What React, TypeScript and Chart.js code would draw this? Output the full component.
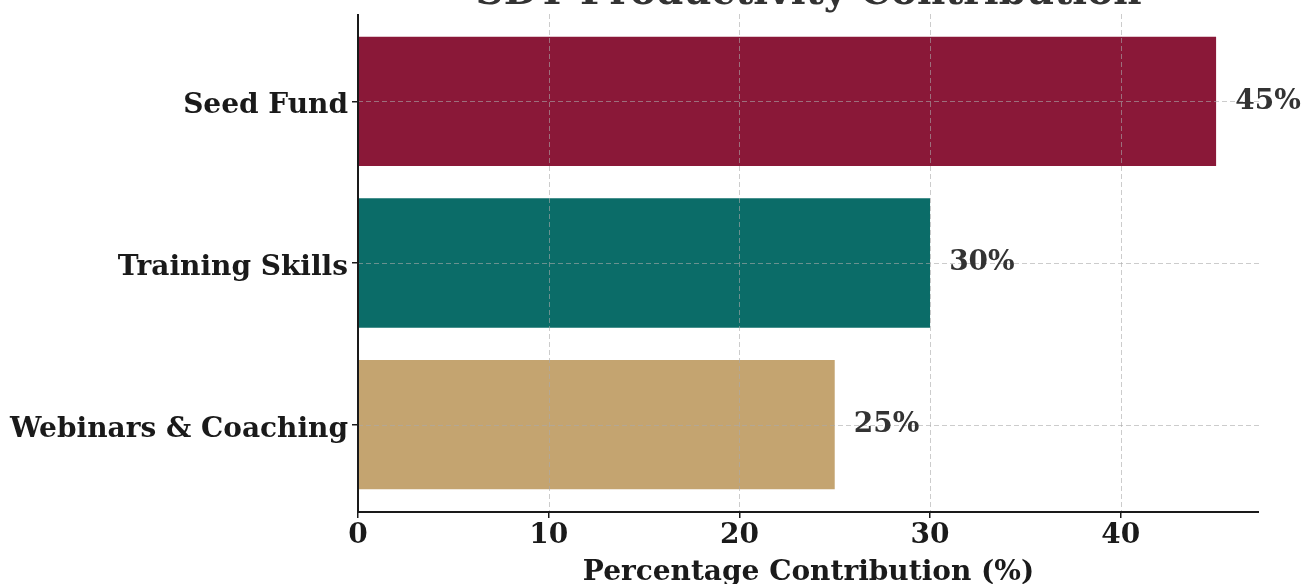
import React, { useEffect, useRef } from "react";
import { Chart, registerables } from "chart.js";

Chart.register(...registerables);

const categories = ["Seed Fund", "Training Skills", "Webinars & Coaching"];
const values = [45, 30, 25];
const colors = ["#8A1838", "#0B6C68", "#C4A470"];
const xTicks = [0, 10, 20, 30, 40];
const chartTitle = "SDT Productivity Contribution";
const xTitle = "Percentage Contribution (%)";

const FONT = "'DejaVu Serif', serif";

const overlay = {
  id: "overlay",
  afterDatasetsDraw(chart: any) {
    const { ctx, chartArea, scales } = chart;
    const xs = scales.x;
    const ys = scales.y;
    ctx.save();
    // grid on top of bars
    ctx.strokeStyle = "rgba(170,170,170,0.6)";
    ctx.lineWidth = 1;
    ctx.setLineDash([5, 3]);
    xTicks.forEach((v) => {
      const px = Math.round(xs.getPixelForValue(v)) + 0.5;
      ctx.beginPath();
      ctx.moveTo(px, chartArea.top);
      ctx.lineTo(px, chartArea.bottom);
      ctx.stroke();
    });
    categories.forEach((_, i) => {
      const py = Math.round(ys.getPixelForValue(i)) + 0.5;
      ctx.beginPath();
      ctx.moveTo(chartArea.left, py);
      ctx.lineTo(chartArea.right, py);
      ctx.stroke();
    });
    ctx.setLineDash([]);
    // spines
    ctx.strokeStyle = "#1a1a1a";
    ctx.lineWidth = 2;
    ctx.beginPath();
    ctx.moveTo(chartArea.left, chartArea.top);
    ctx.lineTo(chartArea.left, chartArea.bottom);
    ctx.lineTo(chartArea.right, chartArea.bottom);
    ctx.stroke();
    // category labels
    ctx.fillStyle = "#1a1a1a";
    ctx.font = `bold 28px ${FONT}`;
    ctx.textAlign = "right";
    ctx.textBaseline = "alphabetic";
    categories.forEach((c, i) => {
      ctx.fillText(c, chartArea.left - 10, ys.getPixelForValue(i) + 12);
    });
    // value labels
    ctx.fillStyle = "#333333";
    ctx.font = `bold 28px ${FONT}`;
    ctx.textAlign = "left";
    ctx.textBaseline = "middle";
    values.forEach((v, i) => {
      ctx.fillText(`${v}%`, xs.getPixelForValue(v + 1), ys.getPixelForValue(i));
    });
    // x axis title
    ctx.fillStyle = "#1a1a1a";
    ctx.textAlign = "center";
    ctx.textBaseline = "alphabetic";
    ctx.fillText(xTitle, (chartArea.left + chartArea.right) / 2, 580);
    // title (cut off at top)
    ctx.fillStyle = "#333333";
    ctx.font = `bold 39px ${FONT}`;
    ctx.fillText(chartTitle, (chartArea.left + chartArea.right) / 2, 4);
    ctx.restore();
  },
};

export default function App() {
  const ref = useRef<HTMLCanvasElement>(null);
  useEffect(() => {
    document.body.style.margin = "0";
    const chart = new Chart(ref.current!, {
      type: "bar",
      data: {
        datasets: [
          {
            data: values.map((v, i) => ({ x: v, y: i })),
            backgroundColor: colors,
            borderWidth: 0,
            categoryPercentage: 0.8,
            barPercentage: 1,
          },
        ],
      },
      plugins: [overlay],
      options: {
        indexAxis: "y",
        animation: false,
        responsive: false,
        maintainAspectRatio: false,
        layout: { padding: { top: 14, right: 43, bottom: 0, left: 0 } },
        plugins: { legend: { display: false }, tooltip: { enabled: false }, title: { display: false } },
        scales: {
          x: {
            type: "linear",
            min: 0,
            max: 47.25,
            offset: false,
            afterBuildTicks: (s: any) => {
              s.ticks = xTicks.map((v) => ({ value: v }));
            },
            afterFit: (s: any) => {
              s.height = 72;
              s.paddingLeft = 0;
              s.paddingRight = 0;
            },
            grid: { offset: false, drawOnChartArea: false, drawTicks: true, tickLength: 6, color: "#1a1a1a", lineWidth: 1.5 },
            border: { display: false },
            ticks: { color: "#1a1a1a", font: { family: FONT, size: 28, weight: "bold" }, padding: 1, maxRotation: 0 },
          },
          y: {
            type: "linear",
            min: -0.54,
            max: 2.54,
            reverse: true,
            offset: false,
            afterBuildTicks: (s: any) => {
              s.ticks = categories.map((_, i) => ({ value: i }));
            },
            afterFit: (s: any) => {
              s.width = 358;
              s.paddingTop = 0;
              s.paddingBottom = 0;
            },
            grid: { offset: false, drawOnChartArea: false, drawTicks: true, tickLength: 6, color: "#1a1a1a", lineWidth: 1.5 },
            border: { display: false },
            ticks: {
              display: false,
            },
          },
        },
      },
    });
    return () => chart.destroy();
  }, []);
  return (
    <div style={{ width: 1302, height: 584 }}>
      <canvas ref={ref} width={1302} height={584} style={{ display: "block" }} />
    </div>
  );
}
